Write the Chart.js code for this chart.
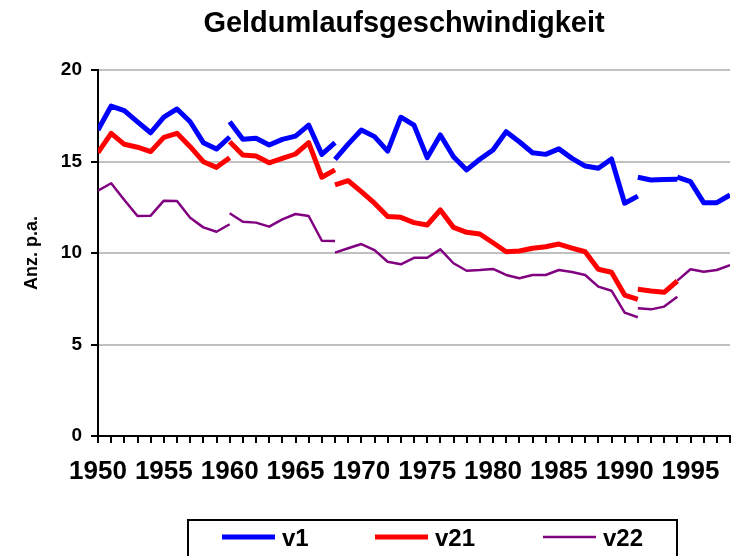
<!DOCTYPE html>
<html>
<head>
<meta charset="utf-8">
<script src="https://cdn.jsdelivr.net/npm/chart.js@4/dist/chart.umd.min.js"></script>
<style>
  html, body { margin: 0; padding: 0; background: #fff; }
  #wrap { width: 731px; height: 556px; }
</style>
</head>
<body>
<div id="wrap"><canvas id="grafico" width="731" height="556"></canvas></div>
<script>
const titulo = 'Geldumlaufsgeschwindigkeit';
const tituloEjeY = 'Anz. p.a.';
const etiquetasX = [1950, 1955, 1960, 1965, 1970, 1975, 1980, 1985, 1990, 1995];
const anioMin = 1950;
const anioMax = 1998;

// Jahre, in denen ein neues Teilstück beginnt (Strukturbrüche)
const inicios = [1950, 1960, 1968, 1991, 1994];

// v1
const v1_a = [16.72, 18.03, 17.78, 17.17, 16.57, 17.43, 17.87, 17.17, 16.03, 15.68, 16.34];
const v1_b = [17.17, 16.21, 16.27, 15.90, 16.21, 16.39, 16.99, 15.39, 16.03];
const v1_c = [15.12, 15.95, 16.72, 16.36, 15.57, 17.42, 16.99, 15.21, 16.45, 15.26, 14.54, 15.12,
              15.63, 16.63, 16.08, 15.48, 15.39, 15.69, 15.17, 14.75, 14.63, 15.14, 12.72, 13.11];
const v1_d = [14.14, 13.99, 14.02, 14.03];
const v1_e = [14.14, 13.90, 12.75, 12.75, 13.17];

// v21
const v21_a = [15.48, 16.54, 15.94, 15.78, 15.54, 16.32, 16.54, 15.81, 14.99, 14.68, 15.21];
const v21_b = [16.08, 15.36, 15.30, 14.93, 15.17, 15.41, 16.03, 14.14, 14.54];
const v21_c = [13.72, 13.95, 13.35, 12.72, 12.00, 11.95, 11.66, 11.53, 12.35, 11.40, 11.13, 11.04,
               10.56, 10.07, 10.11, 10.26, 10.34, 10.49, 10.27, 10.07, 9.11, 8.95, 7.70, 7.47];
const v21_d = [8.02, 7.92, 7.85, 8.47];

// v22
const v22_a = [13.40, 13.81, 12.90, 12.02, 12.04, 12.86, 12.84, 11.93, 11.40, 11.16, 11.57];
const v22_b = [12.17, 11.71, 11.66, 11.44, 11.84, 12.13, 12.02, 10.67, 10.66];
const v22_c = [10.02, 10.26, 10.49, 10.16, 9.52, 9.38, 9.74, 9.74, 10.20, 9.44, 9.03, 9.07,
               9.13, 8.80, 8.62, 8.80, 8.80, 9.07, 8.96, 8.80, 8.16, 7.94, 6.74, 6.49];
const v22_d = [6.98, 6.92, 7.07, 7.61];
const v22_e = [8.49, 9.11, 8.98, 9.07, 9.34];

// Teilstücke zu einer Punktreihe verbinden, mit Lücke (null) an jedem Bruch
function unirTramos(tramos) {
    const puntos = [];
    tramos.forEach((valores, i) => {
        if (i > 0) puntos.push({ x: inicios[i], y: null });
        valores.forEach((v, j) => puntos.push({ x: inicios[i] + j, y: v }));
    });
    return puntos;
}

const tituloPlugin = {
    id: 'tituloPlugin',
    afterDraw(chart) {
        const ctx = chart.ctx;
        ctx.save();
        ctx.font = 'bold 29px "Liberation Sans", Arial, sans-serif';
        ctx.fillStyle = '#000';
        ctx.textAlign = 'center';
        ctx.textBaseline = 'alphabetic';
        ctx.fillText(titulo, 404, 32);
        ctx.restore();
    }
};

// Legende mit Rahmen unter dem Diagramm
const leyendaPlugin = {
    id: 'leyendaPlugin',
    afterDraw(chart) {
        const ctx = chart.ctx;
        const posX = [222, 375, 543];
        ctx.save();
        ctx.strokeStyle = '#000';
        ctx.lineWidth = 2;
        ctx.strokeRect(188, 520, 489, 60);
        ctx.font = 'bold 24px "Liberation Sans", Arial, sans-serif';
        ctx.textBaseline = 'middle';
        ctx.textAlign = 'left';
        chart.data.datasets.forEach((ds, i) => {
            ctx.strokeStyle = ds.borderColor;
            ctx.lineWidth = ds.borderWidth;
            ctx.beginPath();
            ctx.moveTo(posX[i], 537);
            ctx.lineTo(posX[i] + 53, 537);
            ctx.stroke();
            ctx.fillStyle = '#000';
            ctx.fillText(ds.label, posX[i] + 60, 539);
        });
        ctx.restore();
    }
};

const ctx = document.getElementById('grafico').getContext('2d');
new Chart(ctx, {
    type: 'line',
    data: {
        datasets: [
            {
                label: 'v1',
                data: unirTramos([v1_a, v1_b, v1_c, v1_d, v1_e]),
                borderColor: '#0000ff',
                borderWidth: 5
            },
            {
                label: 'v21',
                data: unirTramos([v21_a, v21_b, v21_c, v21_d]),
                borderColor: '#ff0000',
                borderWidth: 5
            },
            {
                label: 'v22',
                data: unirTramos([v22_a, v22_b, v22_c, v22_d, v22_e]),
                borderColor: '#800080',
                borderWidth: 2.5
            }
        ]
    },
    options: {
        responsive: false,
        animation: false,
        spanGaps: false,
        elements: {
            point: { radius: 0 },
            line: { tension: 0, borderJoinStyle: 'round', fill: false }
        },
        layout: { padding: { top: 70, bottom: 70, left: 0, right: 1 } },
        plugins: {
            legend: { display: false },
            title: { display: false },
            tooltip: { enabled: false }
        },
        scales: {
            x: {
                type: 'linear',
                min: anioMin,
                max: anioMax,
                afterFit(scale) {
                    scale.height = 50;
                    scale.paddingLeft = 0;
                    scale.paddingRight = 0;
                },
                grid: {
                    drawOnChartArea: false,
                    drawTicks: true,
                    tickLength: 7,
                    tickColor: '#000',
                    lineWidth: 2
                },
                border: { color: '#000', width: 2 },
                ticks: {
                    stepSize: 1,
                    maxTicksLimit: 100,
                    autoSkip: false,
                    maxRotation: 0,
                    padding: 13,
                    color: '#000',
                    font: { family: '"Liberation Sans", Arial, sans-serif', size: 26, weight: 'bold' },
                    callback: (value) => etiquetasX.includes(value) ? String(value) : ''
                }
            },
            y: {
                min: 0,
                max: 20,
                afterFit(scale) { scale.width = 98; },
                grid: {
                    color: '#c0c0c0',
                    lineWidth: 2,
                    tickLength: 7,
                    tickColor: '#000'
                },
                border: { color: '#000', width: 2 },
                ticks: {
                    stepSize: 5,
                    padding: 9,
                    color: '#000',
                    font: { family: '"Liberation Sans", Arial, sans-serif', size: 19, weight: 'bold' }
                },
                title: {
                    display: true,
                    text: tituloEjeY,
                    color: '#000',
                    padding: { top: 21, bottom: 0 },
                    font: { family: '"Liberation Sans", Arial, sans-serif', size: 18, weight: 'bold' }
                }
            }
        }
    },
    plugins: [tituloPlugin, leyendaPlugin]
});
</script>
</body>
</html>
